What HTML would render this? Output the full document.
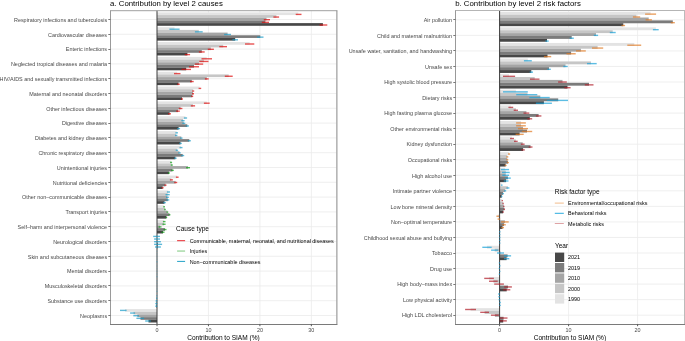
<!DOCTYPE html>
<html><head><meta charset="utf-8"><style>
html,body{margin:0;padding:0;background:#fff;}
svg{display:block;}
text{font-family:"Liberation Sans", sans-serif;}
.ax{font-size:5.43px;fill:#484848;}
.lx{font-size:5.43px;fill:#000;}
.at{font-size:6.55px;fill:#000;}
.lt{font-size:6.5px;fill:#000;}
.tt{font-size:7.8px;fill:#000;}
.g{stroke:#ebebeb;stroke-width:0.8;}
</style></head><body>
<svg width="685" height="341" viewBox="0 0 685 341">
<rect width="685" height="341" fill="#fff"/>
<defs><filter id="bt" filterUnits="userSpaceOnUse" x="0" y="0" width="685" height="341" color-interpolation-filters="sRGB"><feConvolveMatrix order="3" kernelMatrix="0 0 0 0 1 0 0 0 0" divisor="1" edgeMode="none" preserveAlpha="false"/></filter></defs>
<g>
<line x1="110.5" x2="336.4" y1="19.5" y2="19.5" class="g"/>
<line x1="110.5" x2="336.4" y1="34.3" y2="34.3" class="g"/>
<line x1="110.5" x2="336.4" y1="49.1" y2="49.1" class="g"/>
<line x1="110.5" x2="336.4" y1="63.9" y2="63.9" class="g"/>
<line x1="110.5" x2="336.4" y1="78.7" y2="78.7" class="g"/>
<line x1="110.5" x2="336.4" y1="93.5" y2="93.5" class="g"/>
<line x1="110.5" x2="336.4" y1="108.3" y2="108.3" class="g"/>
<line x1="110.5" x2="336.4" y1="123.1" y2="123.1" class="g"/>
<line x1="110.5" x2="336.4" y1="137.9" y2="137.9" class="g"/>
<line x1="110.5" x2="336.4" y1="152.7" y2="152.7" class="g"/>
<line x1="110.5" x2="336.4" y1="167.5" y2="167.5" class="g"/>
<line x1="110.5" x2="336.4" y1="182.3" y2="182.3" class="g"/>
<line x1="110.5" x2="336.4" y1="197.1" y2="197.1" class="g"/>
<line x1="110.5" x2="336.4" y1="211.9" y2="211.9" class="g"/>
<line x1="110.5" x2="336.4" y1="226.7" y2="226.7" class="g"/>
<line x1="110.5" x2="336.4" y1="241.5" y2="241.5" class="g"/>
<line x1="110.5" x2="336.4" y1="256.3" y2="256.3" class="g"/>
<line x1="110.5" x2="336.4" y1="271.1" y2="271.1" class="g"/>
<line x1="110.5" x2="336.4" y1="285.9" y2="285.9" class="g"/>
<line x1="110.5" x2="336.4" y1="300.7" y2="300.7" class="g"/>
<line x1="110.5" x2="336.4" y1="315.5" y2="315.5" class="g"/>
<line x1="208.45" x2="208.45" y1="10.5" y2="324.4" class="g"/>
<line x1="259.9" x2="259.9" y1="10.5" y2="324.4" class="g"/>
<line x1="311.35" x2="311.35" y1="10.5" y2="324.4" class="g"/>
<rect x="157" y="12.4" width="141.3" height="2.68" fill="#e3e3e3"/>
<rect x="157" y="15.08" width="119.4" height="2.68" fill="#c6c6c6"/>
<rect x="157" y="17.76" width="109.5" height="2.68" fill="#a5a5a5"/>
<rect x="157" y="20.44" width="108.4" height="2.68" fill="#7b7b7b"/>
<rect x="157" y="23.12" width="165.9" height="2.68" fill="#474747"/>
<rect x="157" y="27.23" width="17.5" height="2.68" fill="#e3e3e3"/>
<rect x="157" y="29.91" width="41.8" height="2.68" fill="#c6c6c6"/>
<rect x="157" y="32.59" width="70.6" height="2.68" fill="#a5a5a5"/>
<rect x="157" y="35.27" width="103.3" height="2.68" fill="#7b7b7b"/>
<rect x="157" y="37.95" width="78.2" height="2.68" fill="#474747"/>
<rect x="157" y="42.07" width="92.7" height="2.68" fill="#e3e3e3"/>
<rect x="157" y="44.75" width="66.2" height="2.68" fill="#c6c6c6"/>
<rect x="157" y="47.43" width="53.8" height="2.68" fill="#a5a5a5"/>
<rect x="157" y="50.11" width="44.8" height="2.68" fill="#7b7b7b"/>
<rect x="157" y="52.79" width="30.4" height="2.68" fill="#474747"/>
<rect x="157" y="56.91" width="49.7" height="2.68" fill="#e3e3e3"/>
<rect x="157" y="59.59" width="46.9" height="2.68" fill="#c6c6c6"/>
<rect x="157" y="62.27" width="42" height="2.68" fill="#a5a5a5"/>
<rect x="157" y="64.95" width="37" height="2.68" fill="#7b7b7b"/>
<rect x="157" y="67.62" width="29.2" height="2.68" fill="#474747"/>
<rect x="157" y="71.74" width="20.2" height="2.68" fill="#e3e3e3"/>
<rect x="157" y="74.42" width="71.7" height="2.68" fill="#c6c6c6"/>
<rect x="157" y="77.1" width="49.8" height="2.68" fill="#a5a5a5"/>
<rect x="157" y="79.78" width="34.8" height="2.68" fill="#7b7b7b"/>
<rect x="157" y="82.46" width="21.5" height="2.68" fill="#474747"/>
<rect x="157" y="86.58" width="42.6" height="2.68" fill="#e3e3e3"/>
<rect x="157" y="89.26" width="36.2" height="2.68" fill="#c6c6c6"/>
<rect x="157" y="91.94" width="36" height="2.68" fill="#a5a5a5"/>
<rect x="157" y="94.62" width="35.2" height="2.68" fill="#7b7b7b"/>
<rect x="157" y="97.3" width="25" height="2.68" fill="#474747"/>
<rect x="157" y="101.41" width="49.8" height="2.68" fill="#e3e3e3"/>
<rect x="157" y="104.09" width="36" height="2.68" fill="#c6c6c6"/>
<rect x="157" y="106.77" width="23.6" height="2.68" fill="#a5a5a5"/>
<rect x="157" y="109.45" width="21" height="2.68" fill="#7b7b7b"/>
<rect x="157" y="112.13" width="12.6" height="2.68" fill="#474747"/>
<rect x="157" y="116.25" width="28.5" height="2.68" fill="#e3e3e3"/>
<rect x="157" y="118.93" width="26" height="2.68" fill="#c6c6c6"/>
<rect x="157" y="121.61" width="26.8" height="2.68" fill="#a5a5a5"/>
<rect x="157" y="124.29" width="30.3" height="2.68" fill="#7b7b7b"/>
<rect x="157" y="126.97" width="21.6" height="2.68" fill="#474747"/>
<rect x="157" y="131.08" width="19.6" height="2.68" fill="#e3e3e3"/>
<rect x="157" y="133.76" width="19.2" height="2.68" fill="#c6c6c6"/>
<rect x="157" y="136.44" width="24.3" height="2.68" fill="#a5a5a5"/>
<rect x="157" y="139.12" width="32.3" height="2.68" fill="#7b7b7b"/>
<rect x="157" y="141.8" width="23.5" height="2.68" fill="#474747"/>
<rect x="157" y="145.92" width="24" height="2.68" fill="#e3e3e3"/>
<rect x="157" y="148.6" width="19.9" height="2.68" fill="#c6c6c6"/>
<rect x="157" y="151.28" width="22.5" height="2.68" fill="#a5a5a5"/>
<rect x="157" y="153.96" width="25.7" height="2.68" fill="#7b7b7b"/>
<rect x="157" y="156.64" width="18.4" height="2.68" fill="#474747"/>
<rect x="157" y="160.75" width="14.1" height="2.68" fill="#e3e3e3"/>
<rect x="157" y="163.43" width="14.8" height="2.68" fill="#c6c6c6"/>
<rect x="157" y="166.11" width="31" height="2.68" fill="#a5a5a5"/>
<rect x="157" y="168.79" width="15.5" height="2.68" fill="#7b7b7b"/>
<rect x="157" y="171.47" width="11.9" height="2.68" fill="#474747"/>
<rect x="157" y="175.59" width="20.2" height="2.68" fill="#e3e3e3"/>
<rect x="157" y="178.27" width="14.4" height="2.68" fill="#c6c6c6"/>
<rect x="157" y="180.95" width="18.7" height="2.68" fill="#a5a5a5"/>
<rect x="157" y="183.62" width="8.5" height="2.68" fill="#7b7b7b"/>
<rect x="157" y="186.31" width="5.6" height="2.68" fill="#474747"/>
<rect x="157" y="190.42" width="11.4" height="2.68" fill="#e3e3e3"/>
<rect x="157" y="193.1" width="10.6" height="2.68" fill="#c6c6c6"/>
<rect x="157" y="195.78" width="10.4" height="2.68" fill="#a5a5a5"/>
<rect x="157" y="198.46" width="10.8" height="2.68" fill="#7b7b7b"/>
<rect x="157" y="201.14" width="7.5" height="2.68" fill="#474747"/>
<rect x="157" y="205.26" width="7.1" height="2.68" fill="#e3e3e3"/>
<rect x="157" y="207.94" width="8" height="2.68" fill="#c6c6c6"/>
<rect x="157" y="210.62" width="10.4" height="2.68" fill="#a5a5a5"/>
<rect x="157" y="213.3" width="12.5" height="2.68" fill="#7b7b7b"/>
<rect x="157" y="215.98" width="9.4" height="2.68" fill="#474747"/>
<rect x="157" y="220.09" width="7.2" height="2.68" fill="#e3e3e3"/>
<rect x="157" y="222.77" width="7" height="2.68" fill="#c6c6c6"/>
<rect x="157" y="225.45" width="3" height="2.68" fill="#a5a5a5"/>
<rect x="157" y="228.13" width="8" height="2.68" fill="#7b7b7b"/>
<rect x="157" y="230.81" width="6" height="2.68" fill="#474747"/>
<rect x="156.6" y="234.93" width="0.4" height="2.68" fill="#e3e3e3"/>
<rect x="157" y="240.29" width="0.2" height="2.68" fill="#a5a5a5"/>
<rect x="157" y="242.97" width="0.8" height="2.68" fill="#7b7b7b"/>
<rect x="157" y="245.65" width="0.5" height="2.68" fill="#474747"/>
<rect x="156.9" y="296.94" width="0.1" height="2.68" fill="#c6c6c6"/>
<rect x="156.6" y="299.62" width="0.4" height="2.68" fill="#a5a5a5"/>
<rect x="156.5" y="302.31" width="0.5" height="2.68" fill="#7b7b7b"/>
<rect x="156.5" y="304.99" width="0.5" height="2.68" fill="#474747"/>
<rect x="125" y="309.1" width="32" height="2.68" fill="#e3e3e3"/>
<rect x="133.5" y="311.78" width="23.5" height="2.68" fill="#c6c6c6"/>
<rect x="137.3" y="314.46" width="19.7" height="2.68" fill="#a5a5a5"/>
<rect x="140.5" y="317.14" width="16.5" height="2.68" fill="#7b7b7b"/>
<rect x="148.5" y="319.82" width="8.5" height="2.68" fill="#474747"/>
<line x1="157" x2="157" y1="10.5" y2="324.4" stroke="#3a3a3a" stroke-width="1"/>
<line x1="295.7" x2="301.5" y1="14.4" y2="14.4" stroke="#de0a0a" stroke-width="1.4" opacity="0.7"/>
<line x1="273.4" x2="279.1" y1="17.05" y2="17.05" stroke="#de0a0a" stroke-width="1.4" opacity="0.7"/>
<line x1="263.8" x2="270" y1="19.7" y2="19.7" stroke="#de0a0a" stroke-width="1.4" opacity="0.7"/>
<line x1="261.8" x2="269" y1="22.35" y2="22.35" stroke="#de0a0a" stroke-width="1.4" opacity="0.7"/>
<line x1="319.6" x2="327.3" y1="25" y2="25" stroke="#de0a0a" stroke-width="1.4" opacity="0.7"/>
<line x1="169.4" x2="179.6" y1="29.2" y2="29.2" stroke="#1a9cc8" stroke-width="1.4" opacity="0.7"/>
<line x1="194.9" x2="202.7" y1="31.85" y2="31.85" stroke="#1a9cc8" stroke-width="1.4" opacity="0.7"/>
<line x1="224.1" x2="231" y1="34.5" y2="34.5" stroke="#1a9cc8" stroke-width="1.4" opacity="0.7"/>
<line x1="257" x2="263.5" y1="37.15" y2="37.15" stroke="#1a9cc8" stroke-width="1.4" opacity="0.7"/>
<line x1="232.4" x2="238" y1="39.8" y2="39.8" stroke="#1a9cc8" stroke-width="1.4" opacity="0.7"/>
<line x1="245" x2="254.3" y1="44" y2="44" stroke="#de0a0a" stroke-width="1.4" opacity="0.7"/>
<line x1="219.3" x2="227" y1="46.65" y2="46.65" stroke="#de0a0a" stroke-width="1.4" opacity="0.7"/>
<line x1="207.8" x2="213.9" y1="49.3" y2="49.3" stroke="#de0a0a" stroke-width="1.4" opacity="0.7"/>
<line x1="198.9" x2="204.7" y1="51.95" y2="51.95" stroke="#de0a0a" stroke-width="1.4" opacity="0.7"/>
<line x1="184.7" x2="190.1" y1="54.6" y2="54.6" stroke="#de0a0a" stroke-width="1.4" opacity="0.7"/>
<line x1="201.5" x2="212" y1="58.8" y2="58.8" stroke="#de0a0a" stroke-width="1.4" opacity="0.7"/>
<line x1="199.3" x2="208.5" y1="61.45" y2="61.45" stroke="#de0a0a" stroke-width="1.4" opacity="0.7"/>
<line x1="194.9" x2="203.2" y1="64.1" y2="64.1" stroke="#de0a0a" stroke-width="1.4" opacity="0.7"/>
<line x1="189.1" x2="199" y1="66.75" y2="66.75" stroke="#de0a0a" stroke-width="1.4" opacity="0.7"/>
<line x1="181.5" x2="191" y1="69.4" y2="69.4" stroke="#de0a0a" stroke-width="1.4" opacity="0.7"/>
<line x1="174" x2="180.5" y1="73.6" y2="73.6" stroke="#de0a0a" stroke-width="1.4" opacity="0.7"/>
<line x1="224.8" x2="232.7" y1="76.25" y2="76.25" stroke="#de0a0a" stroke-width="1.4" opacity="0.7"/>
<line x1="204.9" x2="208.7" y1="78.9" y2="78.9" stroke="#de0a0a" stroke-width="1.4" opacity="0.7"/>
<line x1="190" x2="193.7" y1="81.55" y2="81.55" stroke="#de0a0a" stroke-width="1.4" opacity="0.7"/>
<line x1="177.2" x2="179.8" y1="84.2" y2="84.2" stroke="#de0a0a" stroke-width="1.4" opacity="0.7"/>
<line x1="198.6" x2="201.2" y1="88.4" y2="88.4" stroke="#de0a0a" stroke-width="1.4" opacity="0.7"/>
<line x1="192.2" x2="194.2" y1="91.05" y2="91.05" stroke="#de0a0a" stroke-width="1.4" opacity="0.7"/>
<line x1="192" x2="194" y1="93.7" y2="93.7" stroke="#de0a0a" stroke-width="1.4" opacity="0.7"/>
<line x1="191.2" x2="193.2" y1="96.35" y2="96.35" stroke="#de0a0a" stroke-width="1.4" opacity="0.7"/>
<line x1="181" x2="183" y1="99" y2="99" stroke="#de0a0a" stroke-width="1.4" opacity="0.7"/>
<line x1="203.9" x2="209.7" y1="103.2" y2="103.2" stroke="#de0a0a" stroke-width="1.4" opacity="0.7"/>
<line x1="190.8" x2="195.1" y1="105.85" y2="105.85" stroke="#de0a0a" stroke-width="1.4" opacity="0.7"/>
<line x1="178.8" x2="182.4" y1="108.5" y2="108.5" stroke="#de0a0a" stroke-width="1.4" opacity="0.7"/>
<line x1="176.2" x2="179.8" y1="111.15" y2="111.15" stroke="#de0a0a" stroke-width="1.4" opacity="0.7"/>
<line x1="168.1" x2="171" y1="113.8" y2="113.8" stroke="#de0a0a" stroke-width="1.4" opacity="0.7"/>
<line x1="183.9" x2="187.1" y1="118" y2="118" stroke="#1a9cc8" stroke-width="1.4" opacity="0.7"/>
<line x1="181.3" x2="184.6" y1="120.65" y2="120.65" stroke="#1a9cc8" stroke-width="1.4" opacity="0.7"/>
<line x1="182.3" x2="185.3" y1="123.3" y2="123.3" stroke="#1a9cc8" stroke-width="1.4" opacity="0.7"/>
<line x1="185.7" x2="188.9" y1="125.95" y2="125.95" stroke="#1a9cc8" stroke-width="1.4" opacity="0.7"/>
<line x1="177.1" x2="180.1" y1="128.6" y2="128.6" stroke="#1a9cc8" stroke-width="1.4" opacity="0.7"/>
<line x1="175.4" x2="177.9" y1="132.8" y2="132.8" stroke="#1a9cc8" stroke-width="1.4" opacity="0.7"/>
<line x1="175" x2="177.4" y1="135.45" y2="135.45" stroke="#1a9cc8" stroke-width="1.4" opacity="0.7"/>
<line x1="180.1" x2="182.5" y1="138.1" y2="138.1" stroke="#1a9cc8" stroke-width="1.4" opacity="0.7"/>
<line x1="187.8" x2="190.8" y1="140.75" y2="140.75" stroke="#1a9cc8" stroke-width="1.4" opacity="0.7"/>
<line x1="179.2" x2="181.8" y1="143.4" y2="143.4" stroke="#1a9cc8" stroke-width="1.4" opacity="0.7"/>
<line x1="179.5" x2="182.5" y1="147.6" y2="147.6" stroke="#1a9cc8" stroke-width="1.4" opacity="0.7"/>
<line x1="175.7" x2="178.1" y1="150.25" y2="150.25" stroke="#1a9cc8" stroke-width="1.4" opacity="0.7"/>
<line x1="178.3" x2="180.7" y1="152.9" y2="152.9" stroke="#1a9cc8" stroke-width="1.4" opacity="0.7"/>
<line x1="181.2" x2="184.2" y1="155.55" y2="155.55" stroke="#1a9cc8" stroke-width="1.4" opacity="0.7"/>
<line x1="174.2" x2="176.6" y1="158.2" y2="158.2" stroke="#1a9cc8" stroke-width="1.4" opacity="0.7"/>
<line x1="170.1" x2="172.1" y1="162.4" y2="162.4" stroke="#0a9e10" stroke-width="1.4" opacity="0.7"/>
<line x1="170.8" x2="172.8" y1="165.05" y2="165.05" stroke="#0a9e10" stroke-width="1.4" opacity="0.7"/>
<line x1="186.1" x2="190" y1="167.7" y2="167.7" stroke="#0a9e10" stroke-width="1.4" opacity="0.7"/>
<line x1="171.2" x2="173.8" y1="170.35" y2="170.35" stroke="#0a9e10" stroke-width="1.4" opacity="0.7"/>
<line x1="167.9" x2="169.9" y1="173" y2="173" stroke="#0a9e10" stroke-width="1.4" opacity="0.7"/>
<line x1="175.9" x2="178.6" y1="177.2" y2="177.2" stroke="#de0a0a" stroke-width="1.4" opacity="0.7"/>
<line x1="169.9" x2="172.9" y1="179.85" y2="179.85" stroke="#de0a0a" stroke-width="1.4" opacity="0.7"/>
<line x1="174.2" x2="177.2" y1="182.5" y2="182.5" stroke="#de0a0a" stroke-width="1.4" opacity="0.7"/>
<line x1="164.5" x2="166.5" y1="185.15" y2="185.15" stroke="#de0a0a" stroke-width="1.4" opacity="0.7"/>
<line x1="161.6" x2="163.6" y1="187.8" y2="187.8" stroke="#de0a0a" stroke-width="1.4" opacity="0.7"/>
<line x1="166.9" x2="170" y1="192" y2="192" stroke="#1a9cc8" stroke-width="1.4" opacity="0.7"/>
<line x1="165.5" x2="169.7" y1="194.65" y2="194.65" stroke="#1a9cc8" stroke-width="1.4" opacity="0.7"/>
<line x1="166" x2="168.8" y1="197.3" y2="197.3" stroke="#1a9cc8" stroke-width="1.4" opacity="0.7"/>
<line x1="166.3" x2="169.3" y1="199.95" y2="199.95" stroke="#1a9cc8" stroke-width="1.4" opacity="0.7"/>
<line x1="163.2" x2="165.8" y1="202.6" y2="202.6" stroke="#1a9cc8" stroke-width="1.4" opacity="0.7"/>
<line x1="163.3" x2="164.9" y1="206.8" y2="206.8" stroke="#0a9e10" stroke-width="1.4" opacity="0.7"/>
<line x1="164.2" x2="165.8" y1="209.45" y2="209.45" stroke="#0a9e10" stroke-width="1.4" opacity="0.7"/>
<line x1="166.6" x2="168.2" y1="212.1" y2="212.1" stroke="#0a9e10" stroke-width="1.4" opacity="0.7"/>
<line x1="168.6" x2="170.4" y1="214.75" y2="214.75" stroke="#0a9e10" stroke-width="1.4" opacity="0.7"/>
<line x1="165.6" x2="167.2" y1="217.4" y2="217.4" stroke="#0a9e10" stroke-width="1.4" opacity="0.7"/>
<line x1="162.9" x2="165.5" y1="221.6" y2="221.6" stroke="#0a9e10" stroke-width="1.4" opacity="0.7"/>
<line x1="162.5" x2="165.6" y1="224.25" y2="224.25" stroke="#0a9e10" stroke-width="1.4" opacity="0.7"/>
<line x1="158.5" x2="161.5" y1="226.9" y2="226.9" stroke="#0a9e10" stroke-width="1.4" opacity="0.7"/>
<line x1="163.5" x2="166.5" y1="229.55" y2="229.55" stroke="#0a9e10" stroke-width="1.4" opacity="0.7"/>
<line x1="161.5" x2="164.5" y1="232.2" y2="232.2" stroke="#0a9e10" stroke-width="1.4" opacity="0.7"/>
<line x1="153.2" x2="160" y1="236.4" y2="236.4" stroke="#1a9cc8" stroke-width="1.4" opacity="0.7"/>
<line x1="154.1" x2="160" y1="239.05" y2="239.05" stroke="#1a9cc8" stroke-width="1.4" opacity="0.7"/>
<line x1="154.1" x2="160.9" y1="241.7" y2="241.7" stroke="#1a9cc8" stroke-width="1.4" opacity="0.7"/>
<line x1="154.1" x2="162.1" y1="244.35" y2="244.35" stroke="#1a9cc8" stroke-width="1.4" opacity="0.7"/>
<line x1="155" x2="160.9" y1="247" y2="247" stroke="#1a9cc8" stroke-width="1.4" opacity="0.7"/>
<line x1="156.85" x2="157.15" y1="251.2" y2="251.2" stroke="#1a9cc8" stroke-width="1.4" opacity="0.7"/>
<line x1="156.85" x2="157.15" y1="253.85" y2="253.85" stroke="#1a9cc8" stroke-width="1.4" opacity="0.7"/>
<line x1="156.85" x2="157.15" y1="256.5" y2="256.5" stroke="#1a9cc8" stroke-width="1.4" opacity="0.7"/>
<line x1="156.85" x2="157.15" y1="259.15" y2="259.15" stroke="#1a9cc8" stroke-width="1.4" opacity="0.7"/>
<line x1="156.7" x2="157.3" y1="261.8" y2="261.8" stroke="#1a9cc8" stroke-width="1.4" opacity="0.7"/>
<line x1="156.85" x2="157.15" y1="266" y2="266" stroke="#1a9cc8" stroke-width="1.4" opacity="0.7"/>
<line x1="156.85" x2="157.15" y1="268.65" y2="268.65" stroke="#1a9cc8" stroke-width="1.4" opacity="0.7"/>
<line x1="156.85" x2="157.15" y1="271.3" y2="271.3" stroke="#1a9cc8" stroke-width="1.4" opacity="0.7"/>
<line x1="156.85" x2="157.15" y1="273.95" y2="273.95" stroke="#1a9cc8" stroke-width="1.4" opacity="0.7"/>
<line x1="156.7" x2="157.3" y1="276.6" y2="276.6" stroke="#1a9cc8" stroke-width="1.4" opacity="0.7"/>
<line x1="156.85" x2="157.15" y1="280.8" y2="280.8" stroke="#1a9cc8" stroke-width="1.4" opacity="0.7"/>
<line x1="156.85" x2="157.15" y1="283.45" y2="283.45" stroke="#1a9cc8" stroke-width="1.4" opacity="0.7"/>
<line x1="156.85" x2="157.15" y1="286.1" y2="286.1" stroke="#1a9cc8" stroke-width="1.4" opacity="0.7"/>
<line x1="156.85" x2="157.15" y1="288.75" y2="288.75" stroke="#1a9cc8" stroke-width="1.4" opacity="0.7"/>
<line x1="156.7" x2="157.3" y1="291.4" y2="291.4" stroke="#1a9cc8" stroke-width="1.4" opacity="0.7"/>
<line x1="156.5" x2="157.3" y1="295.6" y2="295.6" stroke="#1a9cc8" stroke-width="1.4" opacity="0.7"/>
<line x1="156.2" x2="157.3" y1="298.25" y2="298.25" stroke="#1a9cc8" stroke-width="1.4" opacity="0.7"/>
<line x1="155.6" x2="157.3" y1="300.9" y2="300.9" stroke="#1a9cc8" stroke-width="1.4" opacity="0.7"/>
<line x1="155.3" x2="157.3" y1="303.55" y2="303.55" stroke="#1a9cc8" stroke-width="1.4" opacity="0.7"/>
<line x1="155.3" x2="157.3" y1="306.2" y2="306.2" stroke="#1a9cc8" stroke-width="1.4" opacity="0.7"/>
<line x1="120" x2="126.6" y1="310.4" y2="310.4" stroke="#1a9cc8" stroke-width="1.4" opacity="0.7"/>
<line x1="130.1" x2="135.1" y1="313.05" y2="313.05" stroke="#1a9cc8" stroke-width="1.4" opacity="0.7"/>
<line x1="133.3" x2="139" y1="315.7" y2="315.7" stroke="#1a9cc8" stroke-width="1.4" opacity="0.7"/>
<line x1="136.4" x2="144.1" y1="318.35" y2="318.35" stroke="#1a9cc8" stroke-width="1.4" opacity="0.7"/>
<line x1="145.2" x2="150.8" y1="321" y2="321" stroke="#1a9cc8" stroke-width="1.4" opacity="0.7"/>
<line x1="110" x2="337.4" y1="10.7" y2="10.7" stroke="#a0a0a0" stroke-width="1"/>
<line x1="110.5" x2="110.5" y1="10.7" y2="324.5" stroke="#9a9a9a" stroke-width="1"/>
<line x1="336.9" x2="336.9" y1="10.7" y2="324.5" stroke="#888888" stroke-width="1"/>
<line x1="110" x2="337.4" y1="324.5" y2="324.5" stroke="#7a7a7a" stroke-width="1"/>
<line x1="108.3" x2="110.5" y1="19.5" y2="19.5" stroke="#6a6a6a" stroke-width="0.9"/>
<line x1="108.3" x2="110.5" y1="34.5" y2="34.5" stroke="#6a6a6a" stroke-width="0.9"/>
<line x1="108.3" x2="110.5" y1="49.5" y2="49.5" stroke="#6a6a6a" stroke-width="0.9"/>
<line x1="108.3" x2="110.5" y1="63.5" y2="63.5" stroke="#6a6a6a" stroke-width="0.9"/>
<line x1="108.3" x2="110.5" y1="78.5" y2="78.5" stroke="#6a6a6a" stroke-width="0.9"/>
<line x1="108.3" x2="110.5" y1="93.5" y2="93.5" stroke="#6a6a6a" stroke-width="0.9"/>
<line x1="108.3" x2="110.5" y1="108.5" y2="108.5" stroke="#6a6a6a" stroke-width="0.9"/>
<line x1="108.3" x2="110.5" y1="123.5" y2="123.5" stroke="#6a6a6a" stroke-width="0.9"/>
<line x1="108.3" x2="110.5" y1="137.5" y2="137.5" stroke="#6a6a6a" stroke-width="0.9"/>
<line x1="108.3" x2="110.5" y1="152.5" y2="152.5" stroke="#6a6a6a" stroke-width="0.9"/>
<line x1="108.3" x2="110.5" y1="167.5" y2="167.5" stroke="#6a6a6a" stroke-width="0.9"/>
<line x1="108.3" x2="110.5" y1="182.5" y2="182.5" stroke="#6a6a6a" stroke-width="0.9"/>
<line x1="108.3" x2="110.5" y1="197.5" y2="197.5" stroke="#6a6a6a" stroke-width="0.9"/>
<line x1="108.3" x2="110.5" y1="211.5" y2="211.5" stroke="#6a6a6a" stroke-width="0.9"/>
<line x1="108.3" x2="110.5" y1="226.5" y2="226.5" stroke="#6a6a6a" stroke-width="0.9"/>
<line x1="108.3" x2="110.5" y1="241.5" y2="241.5" stroke="#6a6a6a" stroke-width="0.9"/>
<line x1="108.3" x2="110.5" y1="256.5" y2="256.5" stroke="#6a6a6a" stroke-width="0.9"/>
<line x1="108.3" x2="110.5" y1="271.5" y2="271.5" stroke="#6a6a6a" stroke-width="0.9"/>
<line x1="108.3" x2="110.5" y1="285.5" y2="285.5" stroke="#6a6a6a" stroke-width="0.9"/>
<line x1="108.3" x2="110.5" y1="300.5" y2="300.5" stroke="#6a6a6a" stroke-width="0.9"/>
<line x1="108.3" x2="110.5" y1="315.5" y2="315.5" stroke="#6a6a6a" stroke-width="0.9"/>
<line x1="157" x2="157" y1="324.4" y2="326.2" stroke="#444" stroke-width="0.9"/>
<line x1="208.45" x2="208.45" y1="324.4" y2="326.2" stroke="#444" stroke-width="0.9"/>
<line x1="259.9" x2="259.9" y1="324.4" y2="326.2" stroke="#444" stroke-width="0.9"/>
<line x1="311.35" x2="311.35" y1="324.4" y2="326.2" stroke="#444" stroke-width="0.9"/>
<line x1="455.5" x2="684.3" y1="19.83" y2="19.83" class="g"/>
<line x1="455.5" x2="684.3" y1="35.38" y2="35.38" class="g"/>
<line x1="455.5" x2="684.3" y1="50.92" y2="50.92" class="g"/>
<line x1="455.5" x2="684.3" y1="66.47" y2="66.47" class="g"/>
<line x1="455.5" x2="684.3" y1="82.01" y2="82.01" class="g"/>
<line x1="455.5" x2="684.3" y1="97.55" y2="97.55" class="g"/>
<line x1="455.5" x2="684.3" y1="113.1" y2="113.1" class="g"/>
<line x1="455.5" x2="684.3" y1="128.64" y2="128.64" class="g"/>
<line x1="455.5" x2="684.3" y1="144.19" y2="144.19" class="g"/>
<line x1="455.5" x2="684.3" y1="159.74" y2="159.74" class="g"/>
<line x1="455.5" x2="684.3" y1="175.28" y2="175.28" class="g"/>
<line x1="455.5" x2="684.3" y1="190.82" y2="190.82" class="g"/>
<line x1="455.5" x2="684.3" y1="206.37" y2="206.37" class="g"/>
<line x1="455.5" x2="684.3" y1="221.92" y2="221.92" class="g"/>
<line x1="455.5" x2="684.3" y1="237.46" y2="237.46" class="g"/>
<line x1="455.5" x2="684.3" y1="253" y2="253" class="g"/>
<line x1="455.5" x2="684.3" y1="268.55" y2="268.55" class="g"/>
<line x1="455.5" x2="684.3" y1="284.09" y2="284.09" class="g"/>
<line x1="455.5" x2="684.3" y1="299.64" y2="299.64" class="g"/>
<line x1="455.5" x2="684.3" y1="315.19" y2="315.19" class="g"/>
<line x1="568.6" x2="568.6" y1="10.5" y2="324.4" class="g"/>
<line x1="637.6" x2="637.6" y1="10.5" y2="324.4" class="g"/>
<rect x="499.6" y="11.75" width="151" height="2.88" fill="#e3e3e3"/>
<rect x="499.6" y="14.63" width="136.9" height="2.88" fill="#c6c6c6"/>
<rect x="499.6" y="17.51" width="149.1" height="2.88" fill="#a5a5a5"/>
<rect x="499.6" y="20.39" width="173.2" height="2.88" fill="#7b7b7b"/>
<rect x="499.6" y="23.27" width="123.7" height="2.88" fill="#474747"/>
<rect x="499.6" y="27.35" width="156.2" height="2.88" fill="#e3e3e3"/>
<rect x="499.6" y="30.23" width="113.1" height="2.88" fill="#c6c6c6"/>
<rect x="499.6" y="33.11" width="96.4" height="2.88" fill="#a5a5a5"/>
<rect x="499.6" y="35.99" width="72.1" height="2.88" fill="#7b7b7b"/>
<rect x="499.6" y="38.87" width="47.4" height="2.88" fill="#474747"/>
<rect x="499.6" y="42.95" width="134.7" height="2.88" fill="#e3e3e3"/>
<rect x="499.6" y="45.83" width="98" height="2.88" fill="#c6c6c6"/>
<rect x="499.6" y="48.71" width="81.3" height="2.88" fill="#a5a5a5"/>
<rect x="499.6" y="51.59" width="71.5" height="2.88" fill="#7b7b7b"/>
<rect x="499.6" y="54.47" width="47.9" height="2.88" fill="#474747"/>
<rect x="499.6" y="58.55" width="28.2" height="2.88" fill="#e3e3e3"/>
<rect x="499.6" y="61.43" width="91.4" height="2.88" fill="#c6c6c6"/>
<rect x="499.6" y="64.31" width="65.9" height="2.88" fill="#a5a5a5"/>
<rect x="499.6" y="67.19" width="49.4" height="2.88" fill="#7b7b7b"/>
<rect x="499.6" y="70.07" width="31.7" height="2.88" fill="#474747"/>
<rect x="499.6" y="74.15" width="9.4" height="2.88" fill="#e3e3e3"/>
<rect x="499.6" y="77.03" width="35.1" height="2.88" fill="#c6c6c6"/>
<rect x="499.6" y="79.91" width="62.9" height="2.88" fill="#a5a5a5"/>
<rect x="499.6" y="82.79" width="89.4" height="2.88" fill="#7b7b7b"/>
<rect x="499.6" y="85.67" width="67.9" height="2.88" fill="#474747"/>
<rect x="499.6" y="89.75" width="16.3" height="2.88" fill="#e3e3e3"/>
<rect x="499.6" y="92.63" width="27.9" height="2.88" fill="#c6c6c6"/>
<rect x="499.6" y="95.51" width="40.7" height="2.88" fill="#a5a5a5"/>
<rect x="499.6" y="98.39" width="58.6" height="2.88" fill="#7b7b7b"/>
<rect x="499.6" y="101.27" width="44.3" height="2.88" fill="#474747"/>
<rect x="499.6" y="105.35" width="11.2" height="2.88" fill="#e3e3e3"/>
<rect x="499.6" y="108.23" width="16.3" height="2.88" fill="#c6c6c6"/>
<rect x="499.6" y="111.11" width="26.8" height="2.88" fill="#a5a5a5"/>
<rect x="499.6" y="113.99" width="39" height="2.88" fill="#7b7b7b"/>
<rect x="499.6" y="116.87" width="30.2" height="2.88" fill="#474747"/>
<rect x="499.6" y="120.95" width="21.4" height="2.88" fill="#e3e3e3"/>
<rect x="499.6" y="123.83" width="21.4" height="2.88" fill="#c6c6c6"/>
<rect x="499.6" y="126.71" width="23.4" height="2.88" fill="#a5a5a5"/>
<rect x="499.6" y="129.59" width="27.4" height="2.88" fill="#7b7b7b"/>
<rect x="499.6" y="132.47" width="20" height="2.88" fill="#474747"/>
<rect x="499.6" y="136.55" width="12.4" height="2.88" fill="#e3e3e3"/>
<rect x="499.6" y="139.43" width="16.2" height="2.88" fill="#c6c6c6"/>
<rect x="499.6" y="142.31" width="23.1" height="2.88" fill="#a5a5a5"/>
<rect x="499.6" y="145.19" width="30.9" height="2.88" fill="#7b7b7b"/>
<rect x="499.6" y="148.07" width="23.5" height="2.88" fill="#474747"/>
<rect x="499.6" y="152.15" width="9.5" height="2.88" fill="#e3e3e3"/>
<rect x="499.6" y="155.03" width="7.7" height="2.88" fill="#c6c6c6"/>
<rect x="499.6" y="157.91" width="7.7" height="2.88" fill="#a5a5a5"/>
<rect x="499.6" y="160.79" width="8.3" height="2.88" fill="#7b7b7b"/>
<rect x="499.6" y="163.67" width="6" height="2.88" fill="#474747"/>
<rect x="499.6" y="167.75" width="5.4" height="2.88" fill="#e3e3e3"/>
<rect x="499.6" y="170.63" width="6.2" height="2.88" fill="#c6c6c6"/>
<rect x="499.6" y="173.51" width="6.1" height="2.88" fill="#a5a5a5"/>
<rect x="499.6" y="176.39" width="8.3" height="2.88" fill="#7b7b7b"/>
<rect x="499.6" y="179.27" width="6.5" height="2.88" fill="#474747"/>
<rect x="499.6" y="183.35" width="2.1" height="2.88" fill="#e3e3e3"/>
<rect x="499.6" y="186.23" width="8.3" height="2.88" fill="#c6c6c6"/>
<rect x="499.6" y="189.11" width="5.6" height="2.88" fill="#a5a5a5"/>
<rect x="499.6" y="191.99" width="3.5" height="2.88" fill="#7b7b7b"/>
<rect x="499.6" y="194.87" width="2.1" height="2.88" fill="#474747"/>
<rect x="499.6" y="198.95" width="2.7" height="2.88" fill="#e3e3e3"/>
<rect x="499.6" y="201.83" width="3.5" height="2.88" fill="#c6c6c6"/>
<rect x="499.6" y="204.71" width="4.2" height="2.88" fill="#a5a5a5"/>
<rect x="499.6" y="207.59" width="4.7" height="2.88" fill="#7b7b7b"/>
<rect x="499.6" y="210.47" width="3.5" height="2.88" fill="#474747"/>
<rect x="497.7" y="214.55" width="1.9" height="2.88" fill="#e3e3e3"/>
<rect x="498.9" y="217.43" width="0.7" height="2.88" fill="#c6c6c6"/>
<rect x="499.6" y="220.31" width="5.3" height="2.88" fill="#a5a5a5"/>
<rect x="499.6" y="223.19" width="4.4" height="2.88" fill="#7b7b7b"/>
<rect x="499.6" y="226.07" width="2.9" height="2.88" fill="#474747"/>
<rect x="499.6" y="230.15" width="0.2" height="2.88" fill="#e3e3e3"/>
<rect x="499.6" y="233.03" width="0.2" height="2.88" fill="#c6c6c6"/>
<rect x="499.6" y="235.91" width="0.2" height="2.88" fill="#a5a5a5"/>
<rect x="499.6" y="238.79" width="0.2" height="2.88" fill="#7b7b7b"/>
<rect x="499.6" y="241.67" width="0.2" height="2.88" fill="#474747"/>
<rect x="487" y="245.75" width="12.6" height="2.88" fill="#e3e3e3"/>
<rect x="494.7" y="248.63" width="4.9" height="2.88" fill="#c6c6c6"/>
<rect x="499.6" y="251.51" width="0.9" height="2.88" fill="#a5a5a5"/>
<rect x="499.6" y="254.39" width="8" height="2.88" fill="#7b7b7b"/>
<rect x="499.6" y="257.27" width="7" height="2.88" fill="#474747"/>
<rect x="499.4" y="261.35" width="0.2" height="2.88" fill="#e3e3e3"/>
<rect x="499.6" y="264.23" width="0.2" height="2.88" fill="#c6c6c6"/>
<rect x="499.4" y="267.11" width="0.2" height="2.88" fill="#a5a5a5"/>
<rect x="499.6" y="269.99" width="0.2" height="2.88" fill="#7b7b7b"/>
<rect x="499.4" y="272.87" width="0.2" height="2.88" fill="#474747"/>
<rect x="489" y="276.95" width="10.6" height="2.88" fill="#e3e3e3"/>
<rect x="493.4" y="279.83" width="6.2" height="2.88" fill="#c6c6c6"/>
<rect x="499" y="282.71" width="0.6" height="2.88" fill="#a5a5a5"/>
<rect x="499.6" y="285.59" width="8.4" height="2.88" fill="#7b7b7b"/>
<rect x="499.6" y="288.47" width="7.1" height="2.88" fill="#474747"/>
<rect x="499" y="292.55" width="0.6" height="2.88" fill="#e3e3e3"/>
<rect x="499.2" y="295.43" width="0.4" height="2.88" fill="#c6c6c6"/>
<rect x="499.4" y="298.31" width="0.2" height="2.88" fill="#a5a5a5"/>
<rect x="499.6" y="301.19" width="0.4" height="2.88" fill="#7b7b7b"/>
<rect x="499.6" y="304.07" width="0.4" height="2.88" fill="#474747"/>
<rect x="470.6" y="308.15" width="29" height="2.88" fill="#e3e3e3"/>
<rect x="484.6" y="311.03" width="15" height="2.88" fill="#c6c6c6"/>
<rect x="494.9" y="313.91" width="4.7" height="2.88" fill="#a5a5a5"/>
<rect x="499.6" y="316.79" width="4" height="2.88" fill="#7b7b7b"/>
<rect x="499.6" y="319.67" width="3.6" height="2.88" fill="#474747"/>
<line x1="499.6" x2="499.6" y1="10.5" y2="324.4" stroke="#3a3a3a" stroke-width="1"/>
<line x1="645.1" x2="656.1" y1="14.13" y2="14.13" stroke="#e07820" stroke-width="1.4" opacity="0.7"/>
<line x1="632.9" x2="640.2" y1="16.98" y2="16.98" stroke="#e07820" stroke-width="1.4" opacity="0.7"/>
<line x1="645.6" x2="651.9" y1="19.83" y2="19.83" stroke="#e07820" stroke-width="1.4" opacity="0.7"/>
<line x1="670.8" x2="674.8" y1="22.68" y2="22.68" stroke="#e07820" stroke-width="1.4" opacity="0.7"/>
<line x1="621.5" x2="625.1" y1="25.53" y2="25.53" stroke="#e07820" stroke-width="1.4" opacity="0.7"/>
<line x1="652.9" x2="658.7" y1="29.68" y2="29.68" stroke="#1aa2d8" stroke-width="1.4" opacity="0.7"/>
<line x1="609.8" x2="615.7" y1="32.52" y2="32.52" stroke="#1aa2d8" stroke-width="1.4" opacity="0.7"/>
<line x1="593.8" x2="598.1" y1="35.38" y2="35.38" stroke="#1aa2d8" stroke-width="1.4" opacity="0.7"/>
<line x1="569.7" x2="573.8" y1="38.23" y2="38.23" stroke="#1aa2d8" stroke-width="1.4" opacity="0.7"/>
<line x1="545.4" x2="548.7" y1="41.08" y2="41.08" stroke="#1aa2d8" stroke-width="1.4" opacity="0.7"/>
<line x1="627.3" x2="641.2" y1="45.22" y2="45.22" stroke="#e07820" stroke-width="1.4" opacity="0.7"/>
<line x1="592" x2="603.2" y1="48.07" y2="48.07" stroke="#e07820" stroke-width="1.4" opacity="0.7"/>
<line x1="576" x2="585.8" y1="50.92" y2="50.92" stroke="#e07820" stroke-width="1.4" opacity="0.7"/>
<line x1="566.5" x2="575.7" y1="53.77" y2="53.77" stroke="#e07820" stroke-width="1.4" opacity="0.7"/>
<line x1="543.9" x2="551.2" y1="56.62" y2="56.62" stroke="#e07820" stroke-width="1.4" opacity="0.7"/>
<line x1="523.9" x2="531.8" y1="60.77" y2="60.77" stroke="#1aa2d8" stroke-width="1.4" opacity="0.7"/>
<line x1="587" x2="596.7" y1="63.62" y2="63.62" stroke="#1aa2d8" stroke-width="1.4" opacity="0.7"/>
<line x1="563.3" x2="567.7" y1="66.47" y2="66.47" stroke="#1aa2d8" stroke-width="1.4" opacity="0.7"/>
<line x1="547.3" x2="550.8" y1="69.31" y2="69.31" stroke="#1aa2d8" stroke-width="1.4" opacity="0.7"/>
<line x1="529.7" x2="533" y1="72.17" y2="72.17" stroke="#1aa2d8" stroke-width="1.4" opacity="0.7"/>
<line x1="503" x2="515.1" y1="76.31" y2="76.31" stroke="#b01c27" stroke-width="1.4" opacity="0.7"/>
<line x1="530" x2="539.5" y1="79.16" y2="79.16" stroke="#b01c27" stroke-width="1.4" opacity="0.7"/>
<line x1="558.1" x2="566.8" y1="82.01" y2="82.01" stroke="#b01c27" stroke-width="1.4" opacity="0.7"/>
<line x1="584.8" x2="593.5" y1="84.86" y2="84.86" stroke="#b01c27" stroke-width="1.4" opacity="0.7"/>
<line x1="564.3" x2="570.6" y1="87.71" y2="87.71" stroke="#b01c27" stroke-width="1.4" opacity="0.7"/>
<line x1="503" x2="527.8" y1="91.85" y2="91.85" stroke="#1aa2d8" stroke-width="1.4" opacity="0.7"/>
<line x1="516.2" x2="537.3" y1="94.7" y2="94.7" stroke="#1aa2d8" stroke-width="1.4" opacity="0.7"/>
<line x1="529.3" x2="549.7" y1="97.55" y2="97.55" stroke="#1aa2d8" stroke-width="1.4" opacity="0.7"/>
<line x1="546.8" x2="568" y1="100.4" y2="100.4" stroke="#1aa2d8" stroke-width="1.4" opacity="0.7"/>
<line x1="535.9" x2="551.9" y1="103.25" y2="103.25" stroke="#1aa2d8" stroke-width="1.4" opacity="0.7"/>
<line x1="508.4" x2="513.2" y1="107.4" y2="107.4" stroke="#b01c27" stroke-width="1.4" opacity="0.7"/>
<line x1="513.7" x2="518" y1="110.25" y2="110.25" stroke="#b01c27" stroke-width="1.4" opacity="0.7"/>
<line x1="523.5" x2="529.3" y1="113.1" y2="113.1" stroke="#b01c27" stroke-width="1.4" opacity="0.7"/>
<line x1="535.9" x2="541.4" y1="115.95" y2="115.95" stroke="#b01c27" stroke-width="1.4" opacity="0.7"/>
<line x1="527.4" x2="532.2" y1="118.8" y2="118.8" stroke="#b01c27" stroke-width="1.4" opacity="0.7"/>
<line x1="516.1" x2="525.9" y1="122.94" y2="122.94" stroke="#e07820" stroke-width="1.4" opacity="0.7"/>
<line x1="516.1" x2="525.8" y1="125.79" y2="125.79" stroke="#e07820" stroke-width="1.4" opacity="0.7"/>
<line x1="518" x2="528" y1="128.64" y2="128.64" stroke="#e07820" stroke-width="1.4" opacity="0.7"/>
<line x1="521.9" x2="532.2" y1="131.49" y2="131.49" stroke="#e07820" stroke-width="1.4" opacity="0.7"/>
<line x1="515.6" x2="523.7" y1="134.34" y2="134.34" stroke="#e07820" stroke-width="1.4" opacity="0.7"/>
<line x1="510" x2="514" y1="138.49" y2="138.49" stroke="#b01c27" stroke-width="1.4" opacity="0.7"/>
<line x1="514" x2="517.7" y1="141.34" y2="141.34" stroke="#b01c27" stroke-width="1.4" opacity="0.7"/>
<line x1="520.9" x2="524.6" y1="144.19" y2="144.19" stroke="#b01c27" stroke-width="1.4" opacity="0.7"/>
<line x1="528.6" x2="532.5" y1="147.04" y2="147.04" stroke="#b01c27" stroke-width="1.4" opacity="0.7"/>
<line x1="521.4" x2="524.8" y1="149.89" y2="149.89" stroke="#b01c27" stroke-width="1.4" opacity="0.7"/>
<line x1="508.1" x2="510.1" y1="154.04" y2="154.04" stroke="#e07820" stroke-width="1.4" opacity="0.7"/>
<line x1="506.3" x2="508.3" y1="156.89" y2="156.89" stroke="#e07820" stroke-width="1.4" opacity="0.7"/>
<line x1="506.3" x2="508.3" y1="159.74" y2="159.74" stroke="#e07820" stroke-width="1.4" opacity="0.7"/>
<line x1="506.9" x2="508.9" y1="162.59" y2="162.59" stroke="#e07820" stroke-width="1.4" opacity="0.7"/>
<line x1="504.6" x2="506.6" y1="165.44" y2="165.44" stroke="#e07820" stroke-width="1.4" opacity="0.7"/>
<line x1="500.9" x2="509.1" y1="169.58" y2="169.58" stroke="#1aa2d8" stroke-width="1.4" opacity="0.7"/>
<line x1="502" x2="509.7" y1="172.43" y2="172.43" stroke="#1aa2d8" stroke-width="1.4" opacity="0.7"/>
<line x1="502.3" x2="509.1" y1="175.28" y2="175.28" stroke="#1aa2d8" stroke-width="1.4" opacity="0.7"/>
<line x1="505" x2="510.8" y1="178.13" y2="178.13" stroke="#1aa2d8" stroke-width="1.4" opacity="0.7"/>
<line x1="503.8" x2="508.5" y1="180.98" y2="180.98" stroke="#1aa2d8" stroke-width="1.4" opacity="0.7"/>
<line x1="501" x2="502.6" y1="185.12" y2="185.12" stroke="#1aa2d8" stroke-width="1.4" opacity="0.7"/>
<line x1="506.4" x2="509.4" y1="187.97" y2="187.97" stroke="#1aa2d8" stroke-width="1.4" opacity="0.7"/>
<line x1="504.2" x2="506.2" y1="190.82" y2="190.82" stroke="#1aa2d8" stroke-width="1.4" opacity="0.7"/>
<line x1="502.3" x2="503.9" y1="193.67" y2="193.67" stroke="#1aa2d8" stroke-width="1.4" opacity="0.7"/>
<line x1="501" x2="502.4" y1="196.52" y2="196.52" stroke="#1aa2d8" stroke-width="1.4" opacity="0.7"/>
<line x1="501.6" x2="503" y1="200.67" y2="200.67" stroke="#b01c27" stroke-width="1.4" opacity="0.7"/>
<line x1="502.4" x2="503.8" y1="203.52" y2="203.52" stroke="#b01c27" stroke-width="1.4" opacity="0.7"/>
<line x1="503.1" x2="504.5" y1="206.37" y2="206.37" stroke="#b01c27" stroke-width="1.4" opacity="0.7"/>
<line x1="503.6" x2="505" y1="209.22" y2="209.22" stroke="#b01c27" stroke-width="1.4" opacity="0.7"/>
<line x1="502.4" x2="503.8" y1="212.07" y2="212.07" stroke="#b01c27" stroke-width="1.4" opacity="0.7"/>
<line x1="496.4" x2="499" y1="216.22" y2="216.22" stroke="#e07820" stroke-width="1.4" opacity="0.7"/>
<line x1="497.6" x2="500.2" y1="219.07" y2="219.07" stroke="#e07820" stroke-width="1.4" opacity="0.7"/>
<line x1="501.1" x2="508.7" y1="221.92" y2="221.92" stroke="#e07820" stroke-width="1.4" opacity="0.7"/>
<line x1="502.3" x2="505.8" y1="224.77" y2="224.77" stroke="#e07820" stroke-width="1.4" opacity="0.7"/>
<line x1="501.1" x2="504" y1="227.62" y2="227.62" stroke="#e07820" stroke-width="1.4" opacity="0.7"/>
<line x1="499.2" x2="500.4" y1="231.76" y2="231.76" stroke="#1aa2d8" stroke-width="1.4" opacity="0.7"/>
<line x1="499.2" x2="500.4" y1="234.61" y2="234.61" stroke="#1aa2d8" stroke-width="1.4" opacity="0.7"/>
<line x1="499.2" x2="500.4" y1="237.46" y2="237.46" stroke="#1aa2d8" stroke-width="1.4" opacity="0.7"/>
<line x1="499.2" x2="500.4" y1="240.31" y2="240.31" stroke="#1aa2d8" stroke-width="1.4" opacity="0.7"/>
<line x1="499.2" x2="500.4" y1="243.16" y2="243.16" stroke="#1aa2d8" stroke-width="1.4" opacity="0.7"/>
<line x1="482.3" x2="491.7" y1="247.31" y2="247.31" stroke="#1aa2d8" stroke-width="1.4" opacity="0.7"/>
<line x1="491.1" x2="498.2" y1="250.16" y2="250.16" stroke="#1aa2d8" stroke-width="1.4" opacity="0.7"/>
<line x1="497" x2="504" y1="253" y2="253" stroke="#1aa2d8" stroke-width="1.4" opacity="0.7"/>
<line x1="504" x2="511.1" y1="255.85" y2="255.85" stroke="#1aa2d8" stroke-width="1.4" opacity="0.7"/>
<line x1="504" x2="509.3" y1="258.7" y2="258.7" stroke="#1aa2d8" stroke-width="1.4" opacity="0.7"/>
<line x1="498.8" x2="500" y1="262.85" y2="262.85" stroke="#1aa2d8" stroke-width="1.4" opacity="0.7"/>
<line x1="499.2" x2="500.4" y1="265.7" y2="265.7" stroke="#1aa2d8" stroke-width="1.4" opacity="0.7"/>
<line x1="498.8" x2="500" y1="268.55" y2="268.55" stroke="#1aa2d8" stroke-width="1.4" opacity="0.7"/>
<line x1="499.2" x2="500.4" y1="271.4" y2="271.4" stroke="#1aa2d8" stroke-width="1.4" opacity="0.7"/>
<line x1="498.8" x2="500" y1="274.25" y2="274.25" stroke="#1aa2d8" stroke-width="1.4" opacity="0.7"/>
<line x1="484.2" x2="493.9" y1="278.39" y2="278.39" stroke="#b01c27" stroke-width="1.4" opacity="0.7"/>
<line x1="489" x2="497.7" y1="281.24" y2="281.24" stroke="#b01c27" stroke-width="1.4" opacity="0.7"/>
<line x1="494.2" x2="503.9" y1="284.09" y2="284.09" stroke="#b01c27" stroke-width="1.4" opacity="0.7"/>
<line x1="504.2" x2="511.9" y1="286.94" y2="286.94" stroke="#b01c27" stroke-width="1.4" opacity="0.7"/>
<line x1="503" x2="510.3" y1="289.79" y2="289.79" stroke="#b01c27" stroke-width="1.4" opacity="0.7"/>
<line x1="498.2" x2="499.8" y1="293.94" y2="293.94" stroke="#1aa2d8" stroke-width="1.4" opacity="0.7"/>
<line x1="498.4" x2="500" y1="296.79" y2="296.79" stroke="#1aa2d8" stroke-width="1.4" opacity="0.7"/>
<line x1="498.6" x2="500.2" y1="299.64" y2="299.64" stroke="#1aa2d8" stroke-width="1.4" opacity="0.7"/>
<line x1="499.2" x2="500.8" y1="302.49" y2="302.49" stroke="#1aa2d8" stroke-width="1.4" opacity="0.7"/>
<line x1="499.2" x2="500.8" y1="305.34" y2="305.34" stroke="#1aa2d8" stroke-width="1.4" opacity="0.7"/>
<line x1="465.1" x2="476" y1="309.49" y2="309.49" stroke="#b01c27" stroke-width="1.4" opacity="0.7"/>
<line x1="480.2" x2="489" y1="312.33" y2="312.33" stroke="#b01c27" stroke-width="1.4" opacity="0.7"/>
<line x1="490.9" x2="498.8" y1="315.19" y2="315.19" stroke="#b01c27" stroke-width="1.4" opacity="0.7"/>
<line x1="499.7" x2="507.5" y1="318.04" y2="318.04" stroke="#b01c27" stroke-width="1.4" opacity="0.7"/>
<line x1="499.7" x2="506.8" y1="320.88" y2="320.88" stroke="#b01c27" stroke-width="1.4" opacity="0.7"/>
<line x1="455" x2="685" y1="10.5" y2="10.5" stroke="#b5b5b5" stroke-width="1"/>
<line x1="455.5" x2="455.5" y1="10.5" y2="324.5" stroke="#999999" stroke-width="1"/>
<line x1="684.5" x2="684.5" y1="10.5" y2="324.5" stroke="#bbbbbb" stroke-width="1"/>
<line x1="455" x2="685" y1="324.5" y2="324.5" stroke="#7a7a7a" stroke-width="1"/>
<line x1="453.3" x2="455.5" y1="19.5" y2="19.5" stroke="#6a6a6a" stroke-width="0.9"/>
<line x1="453.3" x2="455.5" y1="35.5" y2="35.5" stroke="#6a6a6a" stroke-width="0.9"/>
<line x1="453.3" x2="455.5" y1="50.5" y2="50.5" stroke="#6a6a6a" stroke-width="0.9"/>
<line x1="453.3" x2="455.5" y1="66.5" y2="66.5" stroke="#6a6a6a" stroke-width="0.9"/>
<line x1="453.3" x2="455.5" y1="82.5" y2="82.5" stroke="#6a6a6a" stroke-width="0.9"/>
<line x1="453.3" x2="455.5" y1="97.5" y2="97.5" stroke="#6a6a6a" stroke-width="0.9"/>
<line x1="453.3" x2="455.5" y1="113.5" y2="113.5" stroke="#6a6a6a" stroke-width="0.9"/>
<line x1="453.3" x2="455.5" y1="128.5" y2="128.5" stroke="#6a6a6a" stroke-width="0.9"/>
<line x1="453.3" x2="455.5" y1="144.5" y2="144.5" stroke="#6a6a6a" stroke-width="0.9"/>
<line x1="453.3" x2="455.5" y1="159.5" y2="159.5" stroke="#6a6a6a" stroke-width="0.9"/>
<line x1="453.3" x2="455.5" y1="175.5" y2="175.5" stroke="#6a6a6a" stroke-width="0.9"/>
<line x1="453.3" x2="455.5" y1="190.5" y2="190.5" stroke="#6a6a6a" stroke-width="0.9"/>
<line x1="453.3" x2="455.5" y1="206.5" y2="206.5" stroke="#6a6a6a" stroke-width="0.9"/>
<line x1="453.3" x2="455.5" y1="221.5" y2="221.5" stroke="#6a6a6a" stroke-width="0.9"/>
<line x1="453.3" x2="455.5" y1="237.5" y2="237.5" stroke="#6a6a6a" stroke-width="0.9"/>
<line x1="453.3" x2="455.5" y1="253.5" y2="253.5" stroke="#6a6a6a" stroke-width="0.9"/>
<line x1="453.3" x2="455.5" y1="268.5" y2="268.5" stroke="#6a6a6a" stroke-width="0.9"/>
<line x1="453.3" x2="455.5" y1="284.5" y2="284.5" stroke="#6a6a6a" stroke-width="0.9"/>
<line x1="453.3" x2="455.5" y1="299.5" y2="299.5" stroke="#6a6a6a" stroke-width="0.9"/>
<line x1="453.3" x2="455.5" y1="315.5" y2="315.5" stroke="#6a6a6a" stroke-width="0.9"/>
<line x1="499.6" x2="499.6" y1="324.4" y2="326.2" stroke="#444" stroke-width="0.9"/>
<line x1="568.6" x2="568.6" y1="324.4" y2="326.2" stroke="#444" stroke-width="0.9"/>
<line x1="637.6" x2="637.6" y1="324.4" y2="326.2" stroke="#444" stroke-width="0.9"/>
<line x1="177.1" x2="185.1" y1="240.7" y2="240.7" stroke="#e8282e" stroke-width="1"/>
<line x1="177.1" x2="185.1" y1="251.05" y2="251.05" stroke="#7cc87c" stroke-width="1"/>
<line x1="177.1" x2="185.1" y1="261.4" y2="261.4" stroke="#22a2c8" stroke-width="1"/>
<line x1="554.8" x2="563.8" y1="203.1" y2="203.1" stroke="#f2bd8c" stroke-width="1"/>
<line x1="554.8" x2="563.8" y1="213.3" y2="213.3" stroke="#2aacdf" stroke-width="1"/>
<line x1="554.8" x2="563.8" y1="223.5" y2="223.5" stroke="#dfa3a5" stroke-width="1"/>
<rect x="555" y="252.6" width="9.2" height="9.4" fill="#474747"/>
<rect x="555" y="263" width="9.2" height="9.4" fill="#7b7b7b"/>
<rect x="555" y="273.4" width="9.2" height="9.4" fill="#a5a5a5"/>
<rect x="555" y="283.8" width="9.2" height="9.4" fill="#c6c6c6"/>
<rect x="555" y="294.2" width="9.2" height="9.4" fill="#e3e3e3"/>
</g>
<g filter="url(#bt)">
<text x="107.1" y="21.75" class="ax" text-anchor="end">Respiratory infections and tuberculosis</text>
<text x="107.1" y="36.55" class="ax" text-anchor="end">Cardiovascular diseases</text>
<text x="107.1" y="51.35" class="ax" text-anchor="end">Enteric infections</text>
<text x="107.1" y="66.15" class="ax" text-anchor="end">Neglected tropical diseases and malaria</text>
<text x="107.1" y="80.95" class="ax" text-anchor="end">HIV/AIDS and sexually transmitted infections</text>
<text x="107.1" y="95.75" class="ax" text-anchor="end">Maternal and neonatal disorders</text>
<text x="107.1" y="110.55" class="ax" text-anchor="end">Other infectious diseases</text>
<text x="107.1" y="125.35" class="ax" text-anchor="end">Digestive diseases</text>
<text x="107.1" y="140.15" class="ax" text-anchor="end">Diabetes and kidney diseases</text>
<text x="107.1" y="154.95" class="ax" text-anchor="end">Chronic respiratory diseases</text>
<text x="107.1" y="169.75" class="ax" text-anchor="end">Unintentional injuries</text>
<text x="107.1" y="184.55" class="ax" text-anchor="end">Nutritional deficiencies</text>
<text x="107.1" y="199.35" class="ax" text-anchor="end">Other non–communicable diseases</text>
<text x="107.1" y="214.15" class="ax" text-anchor="end">Transport injuries</text>
<text x="107.1" y="228.95" class="ax" text-anchor="end">Self–harm and interpersonal violence</text>
<text x="107.1" y="243.75" class="ax" text-anchor="end">Neurological disorders</text>
<text x="107.1" y="258.55" class="ax" text-anchor="end">Skin and subcutaneous diseases</text>
<text x="107.1" y="273.35" class="ax" text-anchor="end">Mental disorders</text>
<text x="107.1" y="288.15" class="ax" text-anchor="end">Musculoskeletal disorders</text>
<text x="107.1" y="302.95" class="ax" text-anchor="end">Substance use disorders</text>
<text x="107.1" y="317.75" class="ax" text-anchor="end">Neoplasms</text>
<text x="157" y="331.5" class="ax" text-anchor="middle">0</text>
<text x="208.45" y="331.5" class="ax" text-anchor="middle">10</text>
<text x="259.9" y="331.5" class="ax" text-anchor="middle">20</text>
<text x="311.35" y="331.5" class="ax" text-anchor="middle">30</text>
<text x="223.45" y="339.9" class="at" text-anchor="middle">Contribution to SIAM (%)</text>
<text x="452.1" y="22.08" class="ax" text-anchor="end">Air pollution</text>
<text x="452.1" y="37.62" class="ax" text-anchor="end">Child and maternal malnutrition</text>
<text x="452.1" y="53.17" class="ax" text-anchor="end">Unsafe water, sanitation, and handwashing</text>
<text x="452.1" y="68.72" class="ax" text-anchor="end">Unsafe sex</text>
<text x="452.1" y="84.26" class="ax" text-anchor="end">High systolic blood pressure</text>
<text x="452.1" y="99.8" class="ax" text-anchor="end">Dietary risks</text>
<text x="452.1" y="115.35" class="ax" text-anchor="end">High fasting plasma glucose</text>
<text x="452.1" y="130.89" class="ax" text-anchor="end">Other environmental risks</text>
<text x="452.1" y="146.44" class="ax" text-anchor="end">Kidney dysfunction</text>
<text x="452.1" y="161.99" class="ax" text-anchor="end">Occupational risks</text>
<text x="452.1" y="177.53" class="ax" text-anchor="end">High alcohol use</text>
<text x="452.1" y="193.07" class="ax" text-anchor="end">Intimate partner violence</text>
<text x="452.1" y="208.62" class="ax" text-anchor="end">Low bone mineral density</text>
<text x="452.1" y="224.17" class="ax" text-anchor="end">Non–optimal temperature</text>
<text x="452.1" y="239.71" class="ax" text-anchor="end">Childhood sexual abuse and bullying</text>
<text x="452.1" y="255.25" class="ax" text-anchor="end">Tobacco</text>
<text x="452.1" y="270.8" class="ax" text-anchor="end">Drug use</text>
<text x="452.1" y="286.34" class="ax" text-anchor="end">High body–mass index</text>
<text x="452.1" y="301.89" class="ax" text-anchor="end">Low physical activity</text>
<text x="452.1" y="317.44" class="ax" text-anchor="end">High LDL cholesterol</text>
<text x="499.6" y="331.5" class="ax" text-anchor="middle">0</text>
<text x="568.6" y="331.5" class="ax" text-anchor="middle">10</text>
<text x="637.6" y="331.5" class="ax" text-anchor="middle">20</text>
<text x="569.9" y="339.9" class="at" text-anchor="middle">Contribution to SIAM (%)</text>
<text x="110.1" y="5.9" class="tt">a. Contribution by level 2 causes</text>
<text x="455.2" y="5.9" class="tt">b. Contribution by level 2 risk factors</text>
<text x="176" y="231.2" class="lt">Cause type</text>
<text x="189.7" y="243" class="lx">Communicable, maternal, neonatal, and nutritional diseases</text>
<text x="189.7" y="253.35" class="lx">Injuries</text>
<text x="189.7" y="263.7" class="lx">Non–communicable diseases</text>
<text x="554.8" y="193.6" class="lt">Risk factor type</text>
<text x="568.1" y="205.1" class="lx">Environmental/occupational risks</text>
<text x="568.1" y="215.3" class="lx">Behavioral risks</text>
<text x="568.1" y="225.5" class="lx">Metabolic risks</text>
<text x="555" y="248.3" class="lt">Year</text>
<text x="568" y="259.3" class="lx">2021</text>
<text x="568" y="269.7" class="lx">2019</text>
<text x="568" y="280.1" class="lx">2010</text>
<text x="568" y="290.5" class="lx">2000</text>
<text x="568" y="300.9" class="lx">1990</text>
</g>
</svg>
</body></html>
